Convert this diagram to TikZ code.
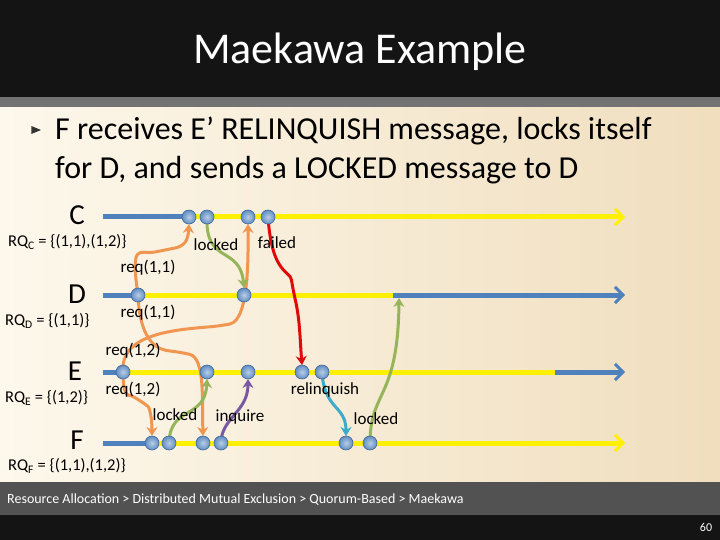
\documentclass[tikz,border=0pt]{standalone}
\usepackage{fontspec}
\setmainfont{Carlito}
\usetikzlibrary{arrows.meta,shapes.geometric}
\definecolor{tl}{RGB}{79,129,189}
\definecolor{yl}{RGB}{255,240,0}
\definecolor{org}{RGB}{240,150,80}
\definecolor{grn}{RGB}{150,180,90}
\definecolor{rd}{RGB}{225,10,10}
\definecolor{pur}{RGB}{120,90,160}
\definecolor{teal}{RGB}{60,170,200}
\definecolor{cream}{RGB}{253,248,236}
\definecolor{tan}{RGB}{240,222,190}
\begin{document}
\begin{tikzpicture}[x=1pt,y=-1pt,
  dot/.style={circle,draw=tl!80!black,line width=0.6pt,inner color=tl!40!white,outer color=tl!90!white,minimum size=14pt,inner sep=0pt},
  msg/.style={line width=3pt,-{Stealth[length=9pt,width=11pt]},rounded corners=10pt},
  lbl/.style={font=\fontsize{17}{17}\selectfont,inner sep=1pt},
  pname/.style={font=\fontsize{29}{29}\selectfont},
  rq/.style={font=\fontsize{16.5}{16.5}\selectfont,anchor=west,inner sep=0pt},
  tline/.style={line width=5pt},
  tip/.style={-{Straight Barb[length=8pt,width=16pt,line width=3pt]}}]
\useasboundingbox (0,0) rectangle (720,540);
\fill[black!92] (0,0) rectangle (720,97);
\fill[black!55] (0,97) rectangle (720,108);
\shade[left color=cream,right color=tan] (0,108) rectangle (720,482);
\fill[black!68] (0,482) rectangle (720,515);
\fill[black!92] (0,515) rectangle (720,540);
\node[text=white,font=\fontsize{44}{44}\selectfont] (title) at (360,52) {Maekawa Example};
\node[isosceles triangle,fill=black!80,minimum width=8pt,minimum height=7pt,inner sep=0pt] (bul) at (34,130) {};
\node[anchor=west,font=\fontsize{32}{32}\selectfont,inner sep=0pt] (l1) at (55,131) {F receives E’ RELINQUISH message, locks itself};
\node[anchor=west,font=\fontsize{32}{32}\selectfont,inner sep=0pt] (l2) at (55,170) {for D, and sends a LOCKED message to D};
\node[anchor=west,text=white,font=\fontsize{14}{14}\selectfont,inner sep=0pt] (foot) at (7,500) {Resource Allocation > Distributed Mutual Exclusion > Quorum-Based > Maekawa};
\node[text=white,font=\fontsize{12}{12}\selectfont] (pg) at (706,527) {60};
% timelines
\draw[tline,tl] (103,217) -- (185,217);
\draw[tline,yl,tip] (185,217) -- (625,217);
\draw[tline,tl] (103,295) -- (138,295);
\draw[tline,yl] (138,295) -- (393,295);
\draw[tline,tl,tip] (393,295) -- (625,295);
\draw[tline,tl] (103,372) -- (123,372);
\draw[tline,yl] (123,372) -- (555,372);
\draw[tline,tl,tip] (555,372) -- (625,372);
\draw[tline,tl] (103,443) -- (152,443);
\draw[tline,yl,tip] (152,443) -- (625,443);
\coordinate (Dt) at (399,298);
% names
\node[pname] (nC) at (77,215) {C};
\node[pname] (nD) at (77,294) {D};
\node[pname] (nE) at (75,371) {E};
\node[pname] (nF) at (77,440) {F};
\node[rq] (rC) at (8,242) {RQ\textsubscript{C} = \{(1,1),(1,2)\}};
\node[rq] (rD) at (5,321) {RQ\textsubscript{D} = \{(1,1)\}};
\node[rq] (rE) at (5,398) {RQ\textsubscript{E} = \{(1,2)\}};
\node[rq] (rF) at (8,466) {RQ\textsubscript{F} = \{(1,1),(1,2)\}};
% messages (under dots)
\draw[msg,org] (138,295) .. controls (130,240) and (140,255) .. (165,250) .. controls (185,246) and (188,240) .. (189,224);
\draw[msg,org] (123,372) .. controls (120,335) and (170,330) .. (220,326) .. controls (250,320) and (248,250) .. (248,224);
\draw[msg,org] (138,295) .. controls (140,345) and (160,350) .. (180,352) .. controls (205,358) and (202,400) .. (203,436);
\draw[msg,org] (123,372) .. controls (123,400) and (130,395) .. (140,400) .. controls (150,408) and (152,420) .. (152,436);
\draw[msg,grn] (207,217) .. controls (205,265) and (240,245) .. (244,288);
\draw[msg,rd] (268,217) .. controls (272,275) and (290,270) .. (293,290) .. controls (300,320) and (300,340) .. (302,365);
\draw[msg,grn] (169,443) .. controls (170,405) and (205,420) .. (207,379);
\draw[msg,pur] (221,443) .. controls (221,418) and (248,412) .. (248,379);
\draw[msg,teal] (322,372) .. controls (324,410) and (346,405) .. (346,436);
\draw[msg,grn] (370,443) .. controls (370,390) and (398,400) .. (Dt);
% dots
\foreach \n/\x in {c1/189,c2/207,c3/248,c4/268} \node[dot] (\n) at (\x,217) {};
\foreach \n/\x in {d1/138,d2/244} \node[dot] (\n) at (\x,295) {};
\foreach \n/\x in {e1/123,e2/207,e3/248,e4/302,e5/322} \node[dot] (\n) at (\x,372) {};
\foreach \n/\x in {f1/152,f2/169,f3/203,f4/221,f5/346,f6/370} \node[dot] (\n) at (\x,443) {};
% labels
\node[lbl] (t1) at (216,245) {locked};
\node[lbl] (t2) at (277,243) {failed};
\node[lbl] (t3) at (148,268) {req(1,1)};
\node[lbl] (t4) at (148,313) {req(1,1)};
\node[lbl] (t5) at (133,351) {req(1,2)};
\node[lbl] (t6) at (133,390) {req(1,2)};
\node[lbl] (t7) at (175,415) {locked};
\node[lbl] (t8) at (240,417) {inquire};
\node[lbl] (t9) at (325,390) {relinquish};
\node[lbl] (t10) at (376,419) {locked};
\end{tikzpicture}
\end{document}
